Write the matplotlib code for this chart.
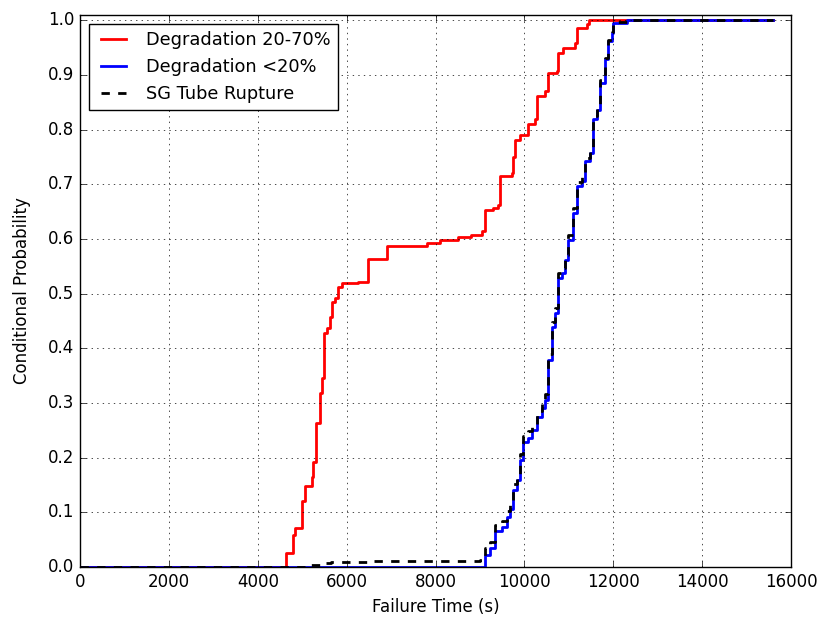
import numpy as np
import matplotlib
matplotlib.use("Agg")
import matplotlib.pyplot as plt

# failure time (s) / conditional probability
red_t = [0, 4635, 4800, 4838, 4988, 5063, 5213, 5250, 5310, 5400, 5438, 5498, 5550,
         5625, 5663, 5738, 5813, 5888, 6263, 6488, 6915, 7800, 8100, 8500, 8800, 9038,
         9113, 9300, 9413, 9450, 9713, 9750, 9800, 9900, 10088, 10238, 10275, 10463,
         10538, 10725, 10763, 10875, 11138, 11175, 11400, 11450, 15600]
red_p = [0.0, 0.026, 0.059, 0.071, 0.121, 0.148, 0.165, 0.193, 0.264, 0.319, 0.346,
         0.429, 0.438, 0.458, 0.484, 0.493, 0.513, 0.520, 0.522, 0.564, 0.588, 0.593,
         0.599, 0.603, 0.608, 0.614, 0.654, 0.656, 0.663, 0.715, 0.721, 0.751, 0.782,
         0.791, 0.810, 0.819, 0.861, 0.871, 0.904, 0.907, 0.941, 0.950, 0.959, 0.987,
         0.993, 1.0, 1.0]

blue_t = [0, 9113, 9225, 9338, 9488, 9600, 9675, 9750, 9825, 9900, 9975, 10088, 10163,
          10275, 10388, 10463, 10538, 10613, 10688, 10763, 10838, 10913, 10988, 11100,
          11175, 11288, 11363, 11475, 11550, 11625, 11700, 11813, 11888, 11963, 12000,
          12300, 15600]
blue_p = [0.0, 0.022, 0.034, 0.065, 0.074, 0.092, 0.107, 0.141, 0.159, 0.196, 0.229,
          0.236, 0.251, 0.275, 0.291, 0.306, 0.379, 0.440, 0.465, 0.529, 0.538, 0.562,
          0.599, 0.648, 0.697, 0.706, 0.742, 0.758, 0.819, 0.837, 0.886, 0.929, 0.962,
          0.977, 0.996, 1.0, 1.0]

sg_t = [0, 5200, 5450, 5650, 6500, 9000, 9113, 9225, 9338, 9488, 9600, 9675, 9750,
        9825, 9900, 9975, 10088, 10163, 10275, 10388, 10463, 10538, 10613, 10688, 10763,
        10838, 10913, 10988, 11100, 11175, 11288, 11363, 11475, 11550, 11625, 11700,
        11813, 11888, 11963, 12000, 12300, 15600]
sg_p = [0.0, 0.004, 0.008, 0.010, 0.011, 0.013, 0.035, 0.046, 0.076, 0.085, 0.103,
        0.118, 0.151, 0.169, 0.206, 0.239, 0.248, 0.262, 0.286, 0.302, 0.317, 0.389,
        0.449, 0.474, 0.538, 0.547, 0.571, 0.607, 0.656, 0.705, 0.713, 0.749, 0.765,
        0.825, 0.843, 0.891, 0.932, 0.965, 0.979, 0.997, 1.0, 1.0]

plt.style.use('classic')
plt.rcParams['font.family'] = ['DejaVu Sans']

fig = plt.figure(figsize=(8.21, 6.24), dpi=100, facecolor='white')
ax = fig.add_axes([80 / 821, 1 - 567 / 624, 711 / 821, 552 / 624])

ax.plot(red_t, red_p, color='red', lw=2, drawstyle='steps-post', label='Degradation 20-70%')
ax.plot(blue_t, blue_p, color='blue', lw=2, drawstyle='steps-post', label='Degradation <20%')
ax.plot(sg_t, sg_p, color='black', lw=2, ls='--', drawstyle='steps-post', label='SG Tube Rupture')

ax.set_xlim(0, 16000)
ax.set_ylim(0, 1.01)
ax.set_xticks(np.arange(0, 16001, 2000))
ax.set_yticks(np.arange(0, 1.01, 0.1))
ax.tick_params(labelsize=12)
ax.grid(True, color='k', linestyle=':', linewidth=0.5)
ax.set_xlabel('Failure Time (s)', fontsize=12)
ax.set_ylabel('Conditional Probability', fontsize=12, labelpad=12)
ax.legend(loc='upper left', fontsize=12.8, frameon=True, fancybox=False, handlelength=2.0)

fig.savefig('out.png', dpi=100, facecolor='white')
